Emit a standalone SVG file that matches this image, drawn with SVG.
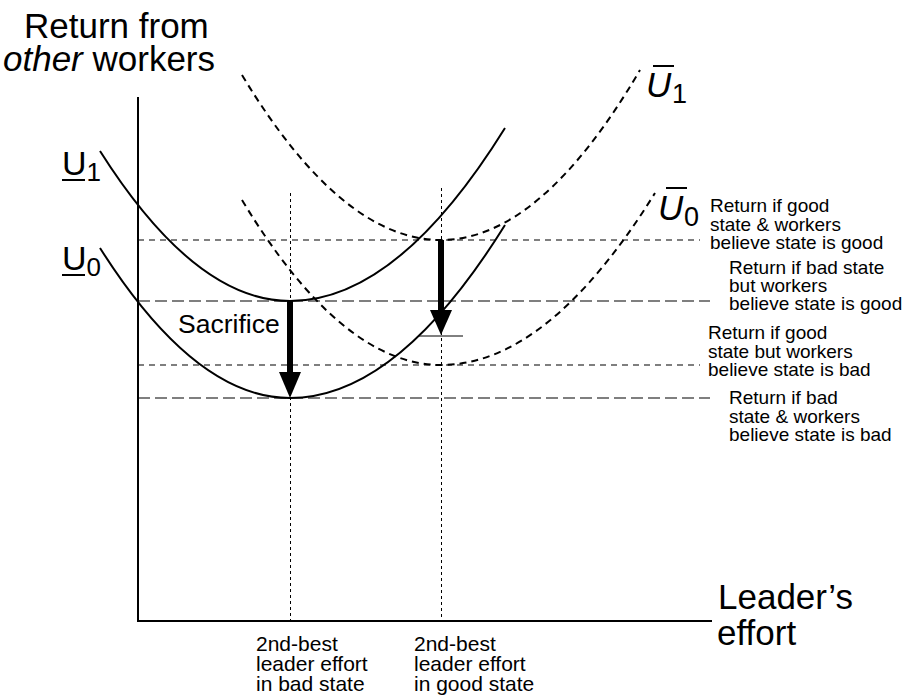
<svg xmlns="http://www.w3.org/2000/svg" width="909" height="695" viewBox="0 0 909 695">
<style>
text{font-family:"Liberation Sans",Arial,sans-serif;fill:#000}
.ax{stroke:#000;stroke-width:2;fill:none}
.sol{stroke:#000;stroke-width:2;fill:none}
.dsh{stroke:#000;stroke-width:2;fill:none;stroke-dasharray:7 5}
.hg{stroke:#000;stroke-width:1.2;fill:none;stroke-dasharray:6 5}
.hb{stroke:#000;stroke-width:1.2;fill:none;stroke-dasharray:12 5}
.vd{stroke:#000;stroke-width:1;fill:none;stroke-dasharray:3 3}
.lbl{font-size:19px}
.bl{font-size:21px}
.big{font-size:35px}
</style>
<rect width="909" height="695" fill="#fff"/>
<g id="axes">
<line class="ax" x1="138" y1="97" x2="138" y2="621"/>
<line class="ax" x1="137" y1="621" x2="712" y2="621"/>
</g>
<g id="axis-labels">
<text class="big" x="24" y="38">Return from</text>
<text class="big" x="3" y="71"><tspan font-style="italic">other</tspan> workers</text>
<text class="big" x="718" y="609">Leader’s</text>
<text class="big" x="717" y="645">effort</text>
</g>
<g id="guides">
<line class="hg" x1="138" y1="240" x2="700" y2="240"/>
<line class="hb" x1="138" y1="301" x2="710" y2="301"/>
<line class="hg" x1="138" y1="365" x2="700" y2="365"/>
<line class="hb" x1="138" y1="398" x2="710" y2="398"/>
<line class="vd" x1="290.5" y1="193" x2="290.5" y2="621"/>
<line class="vd" x1="441.5" y1="188" x2="441.5" y2="621"/>
</g>
<g id="curves">
<path id="U1" class="sol" d="M100,151 Q195,301 290,301 Q397.5,301 505,128"/>
<path id="U0" class="sol" d="M100,248 Q195,398 290,398 Q397.5,398 505,225"/>
<path id="Ubar1" class="dsh" d="M242,75 Q341.5,240 441,240 Q540.5,240 640,70"/>
<path id="Ubar0" class="dsh" d="M242,200 Q341.5,365 441,365 Q548,365 655,193"/>
</g>
<g id="curve-labels">
<g id="lab-U1">
<text x="62" y="175" font-size="34">U<tspan font-size="26" dy="6">1</tspan></text>
<line x1="62" y1="180" x2="85" y2="180" stroke="#000" stroke-width="2"/>
</g>
<g id="lab-U0">
<text x="62" y="270" font-size="34">U<tspan font-size="26" dy="6">0</tspan></text>
<line x1="62" y1="275" x2="85" y2="275" stroke="#000" stroke-width="2"/>
</g>
<g id="lab-Ubar1">
<text x="646" y="97" font-size="35" font-style="italic">U</text>
<text x="672" y="103" font-size="27">1</text>
<line x1="653" y1="66" x2="674" y2="66" stroke="#000" stroke-width="2"/>
</g>
<g id="lab-Ubar0">
<text x="658" y="220" font-size="35" font-style="italic">U</text>
<text x="684" y="226" font-size="27">0</text>
<line x1="666" y1="188" x2="687" y2="188" stroke="#000" stroke-width="2"/>
</g>
</g>
<g id="arrows">
<g id="arrow-bad">
<rect x="287" y="301" width="6" height="73" fill="#000"/>
<polygon points="279,372 301,372 290,398" fill="#000"/>
</g>
<g id="arrow-good">
<rect x="438" y="240" width="6" height="72" fill="#000"/>
<polygon points="430,310 452,310 441,335" fill="#000"/>
<line x1="418" y1="336" x2="463" y2="336" stroke="#000" stroke-width="1"/>
</g>
</g>
<g id="sacrifice">
<text x="178" y="333" font-size="26.5">Sacrifice</text>
</g>
<g id="level-labels">
<text class="lbl"><tspan x="710" y="212">Return if good</tspan><tspan x="710" y="230.5">state &amp; workers</tspan><tspan x="710" y="249">believe state is good</tspan></text>
<text class="lbl"><tspan x="729" y="274">Return if bad state</tspan><tspan x="729" y="292">but workers</tspan><tspan x="729" y="310">believe state is good</tspan></text>
<text class="lbl"><tspan x="708" y="339">Return if good</tspan><tspan x="708" y="357.5">state but workers</tspan><tspan x="708" y="376">believe state is bad</tspan></text>
<text class="lbl"><tspan x="729" y="404">Return if bad</tspan><tspan x="729" y="422.5">state &amp; workers</tspan><tspan x="729" y="441">believe state is bad</tspan></text>
</g>
<g id="effort-labels">
<text class="bl"><tspan x="256" y="651">2nd-best</tspan><tspan x="256" y="671">leader effort</tspan><tspan x="256" y="691">in bad state</tspan></text>
<text class="bl"><tspan x="414" y="651">2nd-best</tspan><tspan x="414" y="671">leader effort</tspan><tspan x="414" y="691">in good state</tspan></text>
</g>
</svg>
